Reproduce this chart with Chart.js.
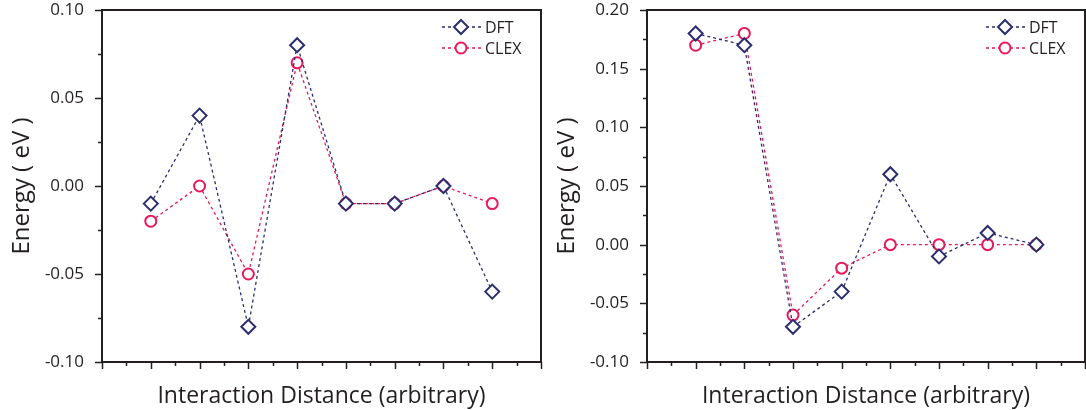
<!DOCTYPE html>
<html>
<head>
<meta charset="utf-8">
<script src="https://cdn.jsdelivr.net/npm/chart.js@4.4.0/dist/chart.umd.min.js"></script>
<style>
  body { margin: 0; background: #fff; }
  #wrap { position: relative; width: 1086px; height: 410px; }
  .box { position: absolute; top: 0; height: 410px; }
</style>
</head>
<body>
<div id="wrap">
  <div class="box" style="left:0;width:545px"><canvas id="leftChart"></canvas></div>
  <div class="box" style="left:545px;width:541px"><canvas id="rightChart"></canvas></div>
</div>
<script>
// interaction index (arbitrary)
var positions = [1, 2, 3, 4, 5, 6, 7, 8];

// left panel
var leftDft  = [-0.01, 0.04, -0.08, 0.08, -0.01, -0.01, 0.00, -0.06];
var leftClex = [-0.02, 0.00, -0.05, 0.07, -0.01, -0.01, 0.00, -0.01];
var leftTicks = [-0.10, -0.05, 0.00, 0.05, 0.10];

// right panel
var rightDft  = [0.18, 0.17, -0.07, -0.04, 0.06, -0.01, 0.01, 0.00];
var rightClex = [0.17, 0.18, -0.06, -0.02, 0.00, 0.00, 0.00, 0.00];
var rightTicks = [-0.10, -0.05, 0.00, 0.05, 0.10, 0.15, 0.20];

var seriesNames = ['DFT', 'CLEX'];
var dftColor = '#2b2d6e';
var clexColor = '#e8195a';
var axisColor = '#231f20';
var fontFamily = '"Open Sans", "Liberation Sans", sans-serif';

function toPoints(ys) {
  var pts = [];
  for (var i = 0; i < positions.length; i++) {
    pts.push({ x: positions[i], y: ys[i] });
  }
  return pts;
}

// Draw frame, major/minor ticks and legend
var framePlugin = {
  id: 'frame',
  afterDraw: function (chart) {
    var ctx = chart.ctx;
    var area = chart.chartArea;
    var xs = chart.scales.x;
    var ys = chart.scales.y;
    ctx.save();
    ctx.strokeStyle = axisColor;
    ctx.lineWidth = 2;
    ctx.strokeRect(area.left, area.top, area.right - area.left, area.bottom - area.top);

    ctx.lineWidth = 1.5;
    // x ticks: every 0.5, major at integers
    for (var v = 0; v <= 9.001; v += 0.5) {
      var px = Math.round(xs.getPixelForValue(v)) + 0.5;
      var len = (Math.abs(v - Math.round(v)) < 0.01) ? 7 : 4;
      ctx.beginPath();
      ctx.moveTo(px, area.bottom);
      ctx.lineTo(px, area.bottom + len);
      ctx.stroke();
    }
    // y ticks: every 0.025, major at 0.05
    var yMin = ys.min, yMax = ys.max;
    for (var k = Math.round(yMin / 0.025); k <= Math.round(yMax / 0.025); k++) {
      var val = k * 0.025;
      var py = Math.round(ys.getPixelForValue(val)) + 0.5;
      var l = (k % 2 === 0) ? 7 : 4;
      ctx.beginPath();
      ctx.moveTo(area.left, py);
      ctx.lineTo(area.left - l, py);
      ctx.stroke();
    }

    // legend
    var ds = chart.data.datasets;
    var lx = area.right - 99;
    for (var i = 0; i < ds.length; i++) {
      var ly = 27 + i * 21;
      ctx.strokeStyle = ds[i].borderColor;
      ctx.lineWidth = 1.5;
      ctx.setLineDash([3, 3]);
      ctx.beginPath();
      ctx.moveTo(lx, ly);
      ctx.lineTo(lx + 39, ly);
      ctx.stroke();
      ctx.setLineDash([]);
      ctx.fillStyle = '#fff';
      ctx.lineWidth = 2;
      ctx.beginPath();
      if (ds[i].pointStyle === 'rectRot') {
        ctx.moveTo(lx + 19, ly - 7);
        ctx.lineTo(lx + 26, ly);
        ctx.lineTo(lx + 19, ly + 7);
        ctx.lineTo(lx + 12, ly);
        ctx.closePath();
      } else {
        ctx.arc(lx + 19, ly, 5.5, 0, Math.PI * 2);
      }
      ctx.fill();
      ctx.stroke();
      ctx.fillStyle = axisColor;
      ctx.font = '16px ' + fontFamily;
      ctx.textBaseline = 'middle';
      ctx.fillText(ds[i].label, lx + 43, ly + 1);
    }
    ctx.restore();
  }
};

function createPanel(canvasId, dft, clex, yMin, yMax, tickValues, rightPad) {
  var ctx = document.getElementById(canvasId).getContext('2d');
  return new Chart(ctx, {
    type: 'line',
    data: {
      datasets: [{
        label: seriesNames[0],
        data: toPoints(dft),
        borderColor: dftColor,
        backgroundColor: '#fff',
        borderWidth: 1.3,
        borderDash: [3, 3],
        pointStyle: 'rectRot',
        pointRadius: 7,
        pointBorderWidth: 2,
        pointBackgroundColor: '#fff',
        pointBorderColor: dftColor
      }, {
        label: seriesNames[1],
        data: toPoints(clex),
        borderColor: clexColor,
        backgroundColor: '#fff',
        borderWidth: 1.3,
        borderDash: [3, 3],
        pointStyle: 'circle',
        pointRadius: 5.5,
        pointBorderWidth: 2,
        pointBackgroundColor: '#fff',
        pointBorderColor: clexColor
      }]
    },
    options: {
      responsive: true,
      maintainAspectRatio: false,
      animation: false,
      events: [],
      layout: { autoPadding: false, padding: { top: 10, right: rightPad, left: 0, bottom: 0 } },
      plugins: {
        legend: { display: false },
        tooltip: { enabled: false }
      },
      scales: {
        x: {
          type: 'linear',
          min: 0,
          max: 9,
          grid: { display: false },
          border: { display: false },
          ticks: { display: false },
          title: {
            display: true,
            text: 'Interaction Distance (arbitrary)',
            color: axisColor,
            font: { family: fontFamily, size: 23 },
            padding: { top: 10, bottom: 0 }
          },
          afterFit: function (scale) { scale.height = 48; }
        },
        y: {
          min: yMin,
          max: yMax,
          grid: { display: false },
          border: { display: false },
          afterBuildTicks: function (scale) {
            scale.ticks = tickValues.map(function (v) { return { value: v }; });
          },
          ticks: {
            color: axisColor,
            padding: 10,
            font: { family: fontFamily, size: 17 },
            callback: function (v) { return v.toFixed(2); }
          },
          title: {
            display: true,
            text: 'Energy ( eV )',
            color: axisColor,
            font: { family: fontFamily, size: 24 },
            padding: { top: 8, bottom: 0 }
          },
          afterFit: function (scale) {
            scale.width = 102;
            scale.paddingTop = 0;
            scale.paddingBottom = 0;
          }
        }
      }
    },
    plugins: [framePlugin]
  });
}

createPanel('leftChart', leftDft, leftClex, -0.10, 0.10, leftTicks, 4);
createPanel('rightChart', rightDft, rightClex, -0.10, 0.20, rightTicks, 1);
</script>
</body>
</html>
